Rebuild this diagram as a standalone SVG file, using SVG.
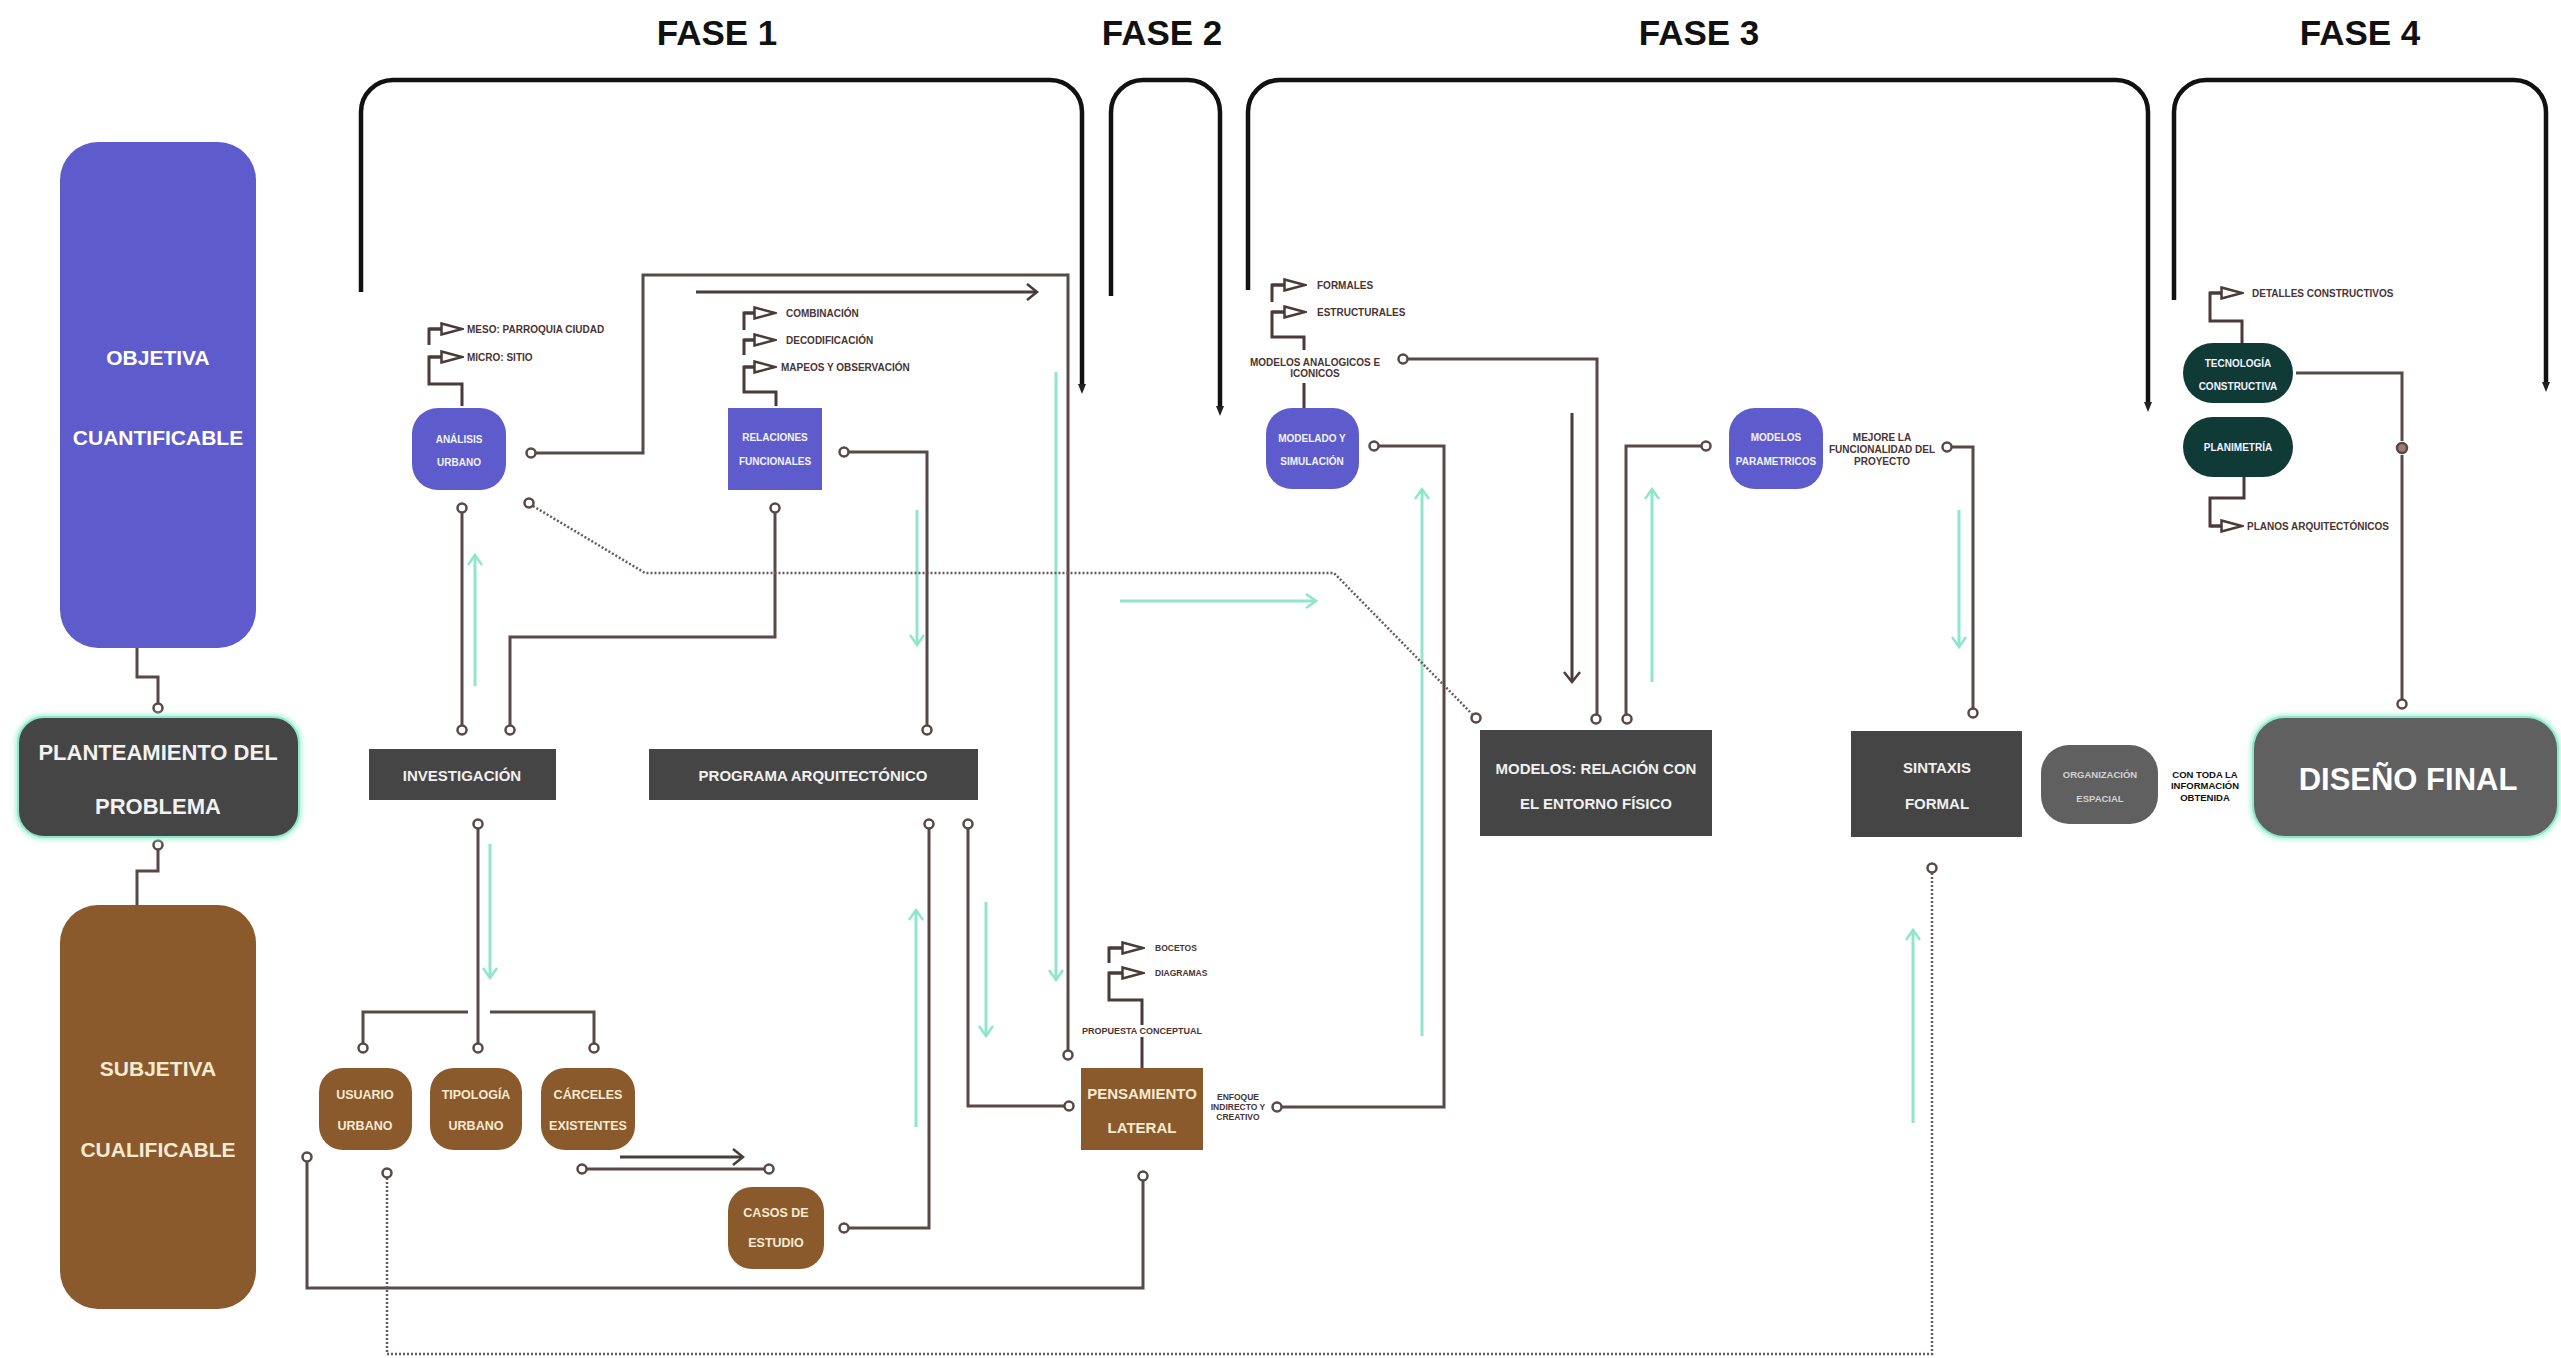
<svg xmlns="http://www.w3.org/2000/svg" width="2561" height="1358" viewBox="0 0 2561 1358">
<defs>
<style>
text{font-family:"Liberation Sans",Arial,sans-serif;font-weight:bold;text-anchor:middle;dominant-baseline:central}
.fase{font-size:35px;fill:#111;dominant-baseline:alphabetic}
.lb{font-size:10px;fill:#4a3434;text-anchor:start}
.lbc{font-size:10px;fill:#4a3434}
.w10{font-size:10px;fill:#f2f2ff}
.big{font-size:21px;fill:#fff}
.cream{fill:#f7ead2}
.m15{font-size:15px;fill:#f0f0f0}
.ln{fill:none;stroke:#5a4848;stroke-width:3}
.stem{fill:none;stroke:#4a3a3a;stroke-width:3}
.dot{fill:none;stroke:#6a5a5a;stroke-width:2.5;stroke-dasharray:2 2}
.mint{fill:none;stroke:#8fe6cc;stroke-width:3;marker-end:url(#mchev)}
.darr{fill:none;stroke:#4a3c3c;stroke-width:3;marker-end:url(#dchev)}
.brk{fill:none;stroke:#111;stroke-width:4.5;marker-end:url(#barrow)}
.c{fill:#fff;stroke:#5a4848;stroke-width:2.5}
.tri{fill:none;stroke:#4a3a3a;stroke-width:3;marker-end:url(#tri)}
.purple{fill:#5e5ccc}
.brown{fill:#8a5a2c}
.dgray{fill:#454545}
.mgray{fill:#606060}
.teal{fill:#0f3a35}
</style>
<marker id="tri" viewBox="0 0 24 14" refX="1" refY="7" markerWidth="24" markerHeight="14" markerUnits="userSpaceOnUse" orient="auto">
<path d="M1.5,1.5 L22,7 L1.5,12.5 Z" fill="#fff" stroke="#4a3a3a" stroke-width="2.5"/>
</marker>
<marker id="mchev" viewBox="0 0 14 16" refX="12" refY="8" markerWidth="14" markerHeight="16" markerUnits="userSpaceOnUse" orient="auto">
<path d="M2,1 L12,8 L2,15" fill="none" stroke="#8fe6cc" stroke-width="2.5"/>
</marker>
<marker id="dchev" viewBox="0 0 14 18" refX="12" refY="9" markerWidth="14" markerHeight="18" markerUnits="userSpaceOnUse" orient="auto">
<path d="M2,1 L12,9 L2,17" fill="none" stroke="#4a3c3c" stroke-width="2.5"/>
</marker>
<marker id="barrow" viewBox="0 0 12 10" refX="2" refY="5" markerWidth="12" markerHeight="10" markerUnits="userSpaceOnUse" orient="auto">
<path d="M0,1 L10,5 L0,9 Z" fill="#222"/>
</marker>
<filter id="glow" x="-10%" y="-20%" width="120%" height="140%">
<feGaussianBlur stdDeviation="2.5"/>
</filter>
</defs>
<rect width="2561" height="1358" fill="#fff"/>

<g id="fases">
<text class="fase" x="717" y="45">FASE 1</text>
<text class="fase" x="1162" y="45">FASE 2</text>
<text class="fase" x="1699" y="45">FASE 3</text>
<text class="fase" x="2360" y="45">FASE 4</text>
<path class="brk" d="M361,292 V112 A32,32 0 0 1 393,80 H1050 A32,32 0 0 1 1082,112 V386"/>
<path class="brk" d="M1111,296 V112 A32,32 0 0 1 1143,80 H1188 A32,32 0 0 1 1220,112 V408"/>
<path class="brk" d="M1248,290 V112 A32,32 0 0 1 1280,80 H2116 A32,32 0 0 1 2148,112 V404"/>
<path class="brk" d="M2174,300 V112 A32,32 0 0 1 2206,80 H2514 A32,32 0 0 1 2546,112 V384"/>
</g>

<g id="connectors">
<!-- mint arrows -->
<path class="mint" d="M475,686 V555"/>
<path class="mint" d="M917,510 V645"/>
<path class="mint" d="M1056,372 V980"/>
<path class="mint" d="M1120,601 H1316"/>
<path class="mint" d="M1422,1036 V489"/>
<path class="mint" d="M1652,682 V489"/>
<path class="mint" d="M1959,510 V647"/>
<path class="mint" d="M1913,1123 V930"/>
<path class="mint" d="M490,844 V978"/>
<path class="mint" d="M916,1127 V910"/>
<path class="mint" d="M986,902 V1036"/>
<!-- dark arrows -->
<path class="darr" d="M696,292 H1037"/>
<path class="darr" d="M1572,413 V682"/>
<path class="darr" d="M620,1157 H743"/>
<!-- lines -->
<path class="ln" d="M137,648 V677 H158 V703"/>
<path class="ln" d="M158,850 V871 H137 V905"/>
<path class="ln" d="M536,453 H643 V275 H1068 V1050"/>
<path class="ln" d="M462,513 V725"/>
<path class="ln" d="M510,725 V637 H775 V513"/>
<path class="dot" d="M533,506 L645,573 H1334 L1472,714"/>
<path class="ln" d="M849,452 H927 V725"/>
<path class="ln" d="M478,829 V1043"/>
<path class="ln" d="M363,1043 V1012 H468 M490,1012 H594 V1043"/>
<path class="ln" d="M307,1162 V1288 H1143 V1181"/>
<path class="dot" d="M387,1178 V1354 H1932 V873"/>
<path class="ln" d="M587,1169 H764"/>
<path class="ln" d="M849,1228 H929 V829"/>
<path class="ln" d="M968,829 V1106 H1064"/>
<path class="ln" d="M1282,1107 H1444 V446 H1379"/>
<path class="ln" d="M1408,359 H1597 V714"/>
<path class="ln" d="M1701,446 H1626 V714"/>
<path class="ln" d="M1952,447 H1973 V708"/>
<path class="ln" d="M2296,373 H2402 V441"/>
<path class="ln" d="M2402,455 V699"/>
<circle class="c" cx="158" cy="708" r="4.5"/>
<circle class="c" cx="158" cy="845" r="4.5"/>
<circle class="c" cx="531" cy="453" r="4.5"/>
<circle class="c" cx="1068" cy="1055" r="4.5"/>
<circle class="c" cx="462" cy="508" r="4.5"/>
<circle class="c" cx="462" cy="730" r="4.5"/>
<circle class="c" cx="510" cy="730" r="4.5"/>
<circle class="c" cx="775" cy="508" r="4.5"/>
<circle class="c" cx="529" cy="503" r="4.5"/>
<circle class="c" cx="1476" cy="718" r="4.5"/>
<circle class="c" cx="844" cy="452" r="4.5"/>
<circle class="c" cx="927" cy="730" r="4.5"/>
<circle class="c" cx="478" cy="824" r="4.5"/>
<circle class="c" cx="363" cy="1048" r="4.5"/>
<circle class="c" cx="478" cy="1048" r="4.5"/>
<circle class="c" cx="594" cy="1048" r="4.5"/>
<circle class="c" cx="307" cy="1157" r="4.5"/>
<circle class="c" cx="1143" cy="1176" r="4.5"/>
<circle class="c" cx="387" cy="1173" r="4.5"/>
<circle class="c" cx="1932" cy="868" r="4.5"/>
<circle class="c" cx="582" cy="1169" r="4.5"/>
<circle class="c" cx="769" cy="1169" r="4.5"/>
<circle class="c" cx="844" cy="1228" r="4.5"/>
<circle class="c" cx="929" cy="824" r="4.5"/>
<circle class="c" cx="968" cy="824" r="4.5"/>
<circle class="c" cx="1069" cy="1106" r="4.5"/>
<circle class="c" cx="1277" cy="1107" r="4.5"/>
<circle class="c" cx="1374" cy="446" r="4.5"/>
<circle class="c" cx="1403" cy="359" r="4.5"/>
<circle class="c" cx="1596" cy="719" r="4.5"/>
<circle class="c" cx="1706" cy="446" r="4.5"/>
<circle class="c" cx="1627" cy="719" r="4.5"/>
<circle class="c" cx="1947" cy="447" r="4.5"/>
<circle class="c" cx="1973" cy="713" r="4.5"/>
<circle cx="2402" cy="448" r="5" fill="#9a7a7a" stroke="#5a4848" stroke-width="2.5"/>
<circle class="c" cx="2402" cy="704" r="4.5"/>
</g>

<g id="objetiva">
<rect class="purple" x="60" y="142" width="196" height="506" rx="38"/>
<text class="big" x="158" y="357">OBJETIVA</text>
<text class="big" x="158" y="437">CUANTIFICABLE</text>
</g>
<g id="planteamiento">
<rect x="18" y="717" width="281" height="120" rx="26" fill="none" stroke="#9ff0d6" stroke-width="5" filter="url(#glow)"/>
<rect class="dgray" x="18" y="717" width="281" height="120" rx="26" stroke="#8fe6cc" stroke-width="2"/>
<text x="158" y="752" style="font-size:22px;fill:#f2f2f2">PLANTEAMIENTO DEL</text>
<text x="158" y="806" style="font-size:22px;fill:#f2f2f2">PROBLEMA</text>
</g>
<g id="subjetiva">
<rect class="brown" x="60" y="905" width="196" height="404" rx="38"/>
<text class="big cream" x="158" y="1068">SUBJETIVA</text>
<text class="big cream" x="158" y="1149">CUALIFICABLE</text>
</g>

<g id="investigacion">
<rect class="dgray" x="369" y="749" width="187" height="51"/>
<text class="m15" x="462" y="775">INVESTIGACIÓN</text>
</g>
<g id="programa">
<rect class="dgray" x="649" y="749" width="329" height="51"/>
<text class="m15" x="813" y="775">PROGRAMA ARQUITECTÓNICO</text>
</g>

<g id="analisis">
<path class="stem" d="M429,345 V329 H441"/>
<path class="stem" d="M462,406 V384 H429 V357 H441"/>
<path class="tri" d="M429,329 H441"/>
<path class="tri" d="M429,357 H441"/>
<text class="lb" x="467" y="329">MESO: PARROQUIA CIUDAD</text>
<text class="lb" x="467" y="357">MICRO: SITIO</text>
<rect class="purple" x="412" y="408" width="94" height="82" rx="26"/>
<text class="w10" x="459" y="439">ANÁLISIS</text>
<text class="w10" x="459" y="462">URBANO</text>
</g>

<g id="relaciones">
<path class="stem" d="M744,330 V313 H754"/>
<path class="stem" d="M744,355 V340 H754"/>
<path class="stem" d="M776,406 V392 H744 V367 H754"/>
<path class="tri" d="M744,313 H754"/>
<path class="tri" d="M744,340 H754"/>
<path class="tri" d="M744,367 H754"/>
<text class="lb" x="786" y="313">COMBINACIÓN</text>
<text class="lb" x="786" y="340">DECODIFICACIÓN</text>
<text class="lb" x="781" y="367">MAPEOS Y OBSERVACIÓN</text>
<rect class="purple" x="728" y="408" width="94" height="82"/>
<text class="w10" x="775" y="437">RELACIONES</text>
<text class="w10" x="775" y="461">FUNCIONALES</text>
</g>

<g id="modelado">
<path class="stem" d="M1272,302 V285 H1284"/>
<path class="stem" d="M1304,350 V337 H1272 V312 H1284"/>
<path class="stem" d="M1304,383 V408"/>
<path class="tri" d="M1272,285 H1284"/>
<path class="tri" d="M1272,312 H1284"/>
<text class="lb" x="1317" y="285">FORMALES</text>
<text class="lb" x="1317" y="312">ESTRUCTURALES</text>
<text class="lbc" x="1315" y="362">MODELOS ANALOGICOS E</text>
<text class="lbc" x="1315" y="373">ICONICOS</text>
<rect class="purple" x="1266" y="408" width="93" height="81" rx="26"/>
<text class="w10" x="1312" y="438">MODELADO Y</text>
<text class="w10" x="1312" y="461">SIMULACIÓN</text>
</g>

<g id="parametricos">
<rect class="purple" x="1729" y="408" width="94" height="81" rx="26"/>
<text class="w10" x="1776" y="437">MODELOS</text>
<text class="w10" x="1776" y="461">PARAMETRICOS</text>
<text class="lbc" x="1882" y="437">MEJORE LA</text>
<text class="lbc" x="1882" y="449">FUNCIONALIDAD DEL</text>
<text class="lbc" x="1882" y="461">PROYECTO</text>
</g>

<g id="modelos-entorno">
<rect class="dgray" x="1480" y="730" width="232" height="106"/>
<text class="m15" x="1596" y="768">MODELOS: RELACIÓN CON</text>
<text class="m15" x="1596" y="803">EL ENTORNO FÍSICO</text>
</g>

<g id="sintaxis">
<rect class="dgray" x="1851" y="731" width="171" height="106"/>
<text class="m15" x="1937" y="767">SINTAXIS</text>
<text class="m15" x="1937" y="803">FORMAL</text>
</g>

<g id="organizacion">
<rect class="mgray" x="2041" y="745" width="117" height="79" rx="28"/>
<text x="2100" y="774" style="font-size:9.5px;fill:#d2d2d2">ORGANIZACIÓN</text>
<text x="2100" y="798" style="font-size:9.5px;fill:#d2d2d2">ESPACIAL</text>
<text x="2205" y="774" style="font-size:9.5px;fill:#111">CON TODA LA</text>
<text x="2205" y="785" style="font-size:9.5px;fill:#111">INFORMACIÓN</text>
<text x="2205" y="797" style="font-size:9.5px;fill:#111">OBTENIDA</text>
</g>

<g id="diseno-final">
<rect x="2253" y="717" width="305" height="120" rx="32" fill="none" stroke="#9ff0d6" stroke-width="5" filter="url(#glow)"/>
<rect class="mgray" x="2253" y="717" width="305" height="120" rx="32" stroke="#8fe6cc" stroke-width="2"/>
<text x="2408" y="779" style="font-size:31px;fill:#fff">DISEÑO FINAL</text>
</g>

<g id="tecnologia">
<path class="stem" d="M2242,343 V321 H2210 V293 H2221"/>
<path class="tri" d="M2210,293 H2221"/>
<text class="lb" x="2252" y="293">DETALLES CONSTRUCTIVOS</text>
<rect class="teal" x="2183" y="343" width="110" height="60" rx="30"/>
<text class="w10" x="2238" y="363">TECNOLOGÍA</text>
<text class="w10" x="2238" y="386">CONSTRUCTIVA</text>
</g>
<g id="planimetria">
<rect class="teal" x="2183" y="417" width="110" height="60" rx="30"/>
<text class="w10" x="2238" y="447">PLANIMETRÍA</text>
<path class="stem" d="M2244,477 V498 H2210 V526 H2221"/>
<path class="tri" d="M2210,526 H2221"/>
<text class="lb" x="2247" y="526">PLANOS ARQUITECTÓNICOS</text>
</g>

<g id="usuario">
<rect class="brown" x="319" y="1068" width="93" height="82" rx="24"/>
<text class="cream" x="365" y="1095" style="font-size:12.5px">USUARIO</text>
<text class="cream" x="365" y="1126" style="font-size:12.5px">URBANO</text>
</g>
<g id="tipologia">
<rect class="brown" x="430" y="1068" width="92" height="82" rx="24"/>
<text class="cream" x="476" y="1095" style="font-size:12.5px">TIPOLOGÍA</text>
<text class="cream" x="476" y="1126" style="font-size:12.5px">URBANO</text>
</g>
<g id="carceles">
<rect class="brown" x="541" y="1068" width="94" height="82" rx="24"/>
<text class="cream" x="588" y="1095" style="font-size:12.5px">CÁRCELES</text>
<text class="cream" x="588" y="1126" style="font-size:12.5px">EXISTENTES</text>
</g>
<g id="casos">
<rect class="brown" x="728" y="1187" width="96" height="82" rx="24"/>
<text class="cream" x="776" y="1213" style="font-size:12.5px">CASOS DE</text>
<text class="cream" x="776" y="1243" style="font-size:12.5px">ESTUDIO</text>
</g>

<g id="pensamiento">
<path class="stem" d="M1109,963 V948 H1122"/>
<path class="stem" d="M1142,1025 V1000 H1109 V973 H1122"/>
<path class="stem" d="M1142,1037 V1068"/>
<path class="tri" d="M1109,948 H1122"/>
<path class="tri" d="M1109,973 H1122"/>
<text class="lb" x="1155" y="948" style="font-size:8.5px">BOCETOS</text>
<text class="lb" x="1155" y="973" style="font-size:8.5px">DIAGRAMAS</text>
<text class="lbc" x="1142" y="1031" style="font-size:9px">PROPUESTA CONCEPTUAL</text>
<rect class="brown" x="1081" y="1068" width="122" height="82"/>
<text class="cream" x="1142" y="1093" style="font-size:15px">PENSAMIENTO</text>
<text class="cream" x="1142" y="1127" style="font-size:15px">LATERAL</text>
<text class="lbc" x="1238" y="1097" style="font-size:8.5px">ENFOQUE</text>
<text class="lbc" x="1238" y="1107" style="font-size:8.5px">INDIRECTO Y</text>
<text class="lbc" x="1238" y="1117" style="font-size:8.5px">CREATIVO</text>
</g>
</svg>
